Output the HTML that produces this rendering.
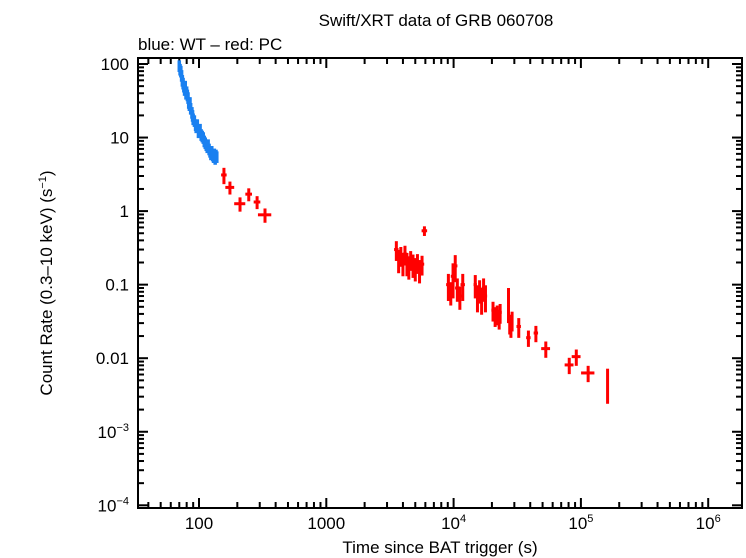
<!DOCTYPE html>
<html><head><meta charset="utf-8"><style>
body{margin:0;background:#fff;width:746px;height:558px;overflow:hidden}
svg{display:block}
text{font-family:"Liberation Sans","DejaVu Sans",sans-serif;fill:#000}
</style></head><body>
<svg id="chart" width="746" height="558" viewBox="0 0 746 558">
<text x="436" y="26" font-size="17" text-anchor="middle">Swift/XRT data of GRB 060708</text>
<text x="138" y="50" font-size="17">blue: WT – red: PC</text>
<text x="440" y="553" font-size="17" text-anchor="middle">Time since BAT trigger (s)</text>
<text transform="translate(52,283) rotate(-90)" font-size="17" text-anchor="middle">Count Rate (0.3–10 keV) (s<tspan dy="-6" font-size="11">−1</tspan><tspan dy="6">)</tspan></text>
<g id="axes"></g>
<g id="marks"></g>
<rect x="138" y="58" width="604" height="450" fill="none" stroke="#000" stroke-width="2"/>
</svg>
<script>
// WT (blue) data
const wtTime = [70,71,72,73,74,75,76,77,78,79,80,81,82,83,84,85,86,88,89,90,92,94,95,97,99,100,102,104,106,108,110,112,114,116,118,120,122,124,126,128,130,132,134,136,138];
const wtRate = [95,85,80,70,60,55,50,45,50,40,42,38,35,30,28,30,25,22,20,18,17,15,14,15,12,12,13,11,10.5,10,9,8.5,8,7.5,8,7,6.5,6,6.5,5.8,5.5,6,5.2,5.8,5.5];
// PC (red) data
const pcTime = [157,175,210,246,286,330,
 3550,3700,3850,4000,4150,4300,4450,4600,4800,5000,5200,5400,5650,5900,
 9100,9500,9900,10300,10700,11200,11800,
 14800,15400,16000,16600,17200,17800,
 20400,21200,22000,22800,23200,
 27000,27600,28200,28800,
 32500,38700,44300,53000,81000,92000,114000,162000];
const pcRate = [3.1,2.1,1.26,1.7,1.33,0.89,
 0.30,0.22,0.25,0.2,0.26,0.2,0.18,0.22,0.19,0.17,0.2,0.16,0.19,0.54,
 0.1,0.08,0.13,0.18,0.09,0.07,0.1,
 0.1,0.07,0.085,0.065,0.09,0.07,
 0.045,0.038,0.04,0.035,0.042,
 0.06,0.03,0.027,0.033,
 0.027,0.019,0.022,0.0135,0.0081,0.0105,0.0063,0.0048];
const pcTErr = [0.05,0.08,0.1,0.06,0.06,0.12,
 0.04,0.04,0.04,0.04,0.04,0.04,0.04,0.04,0.04,0.04,0.04,0.04,0.04,0.05,
 0.04,0.04,0.04,0.04,0.04,0.04,0.04,
 0.03,0.03,0.03,0.03,0.03,0.03,
 0.03,0.03,0.03,0.03,0.03,
 0.02,0.02,0.02,0.02,
 0.04,0.04,0.04,0.08,0.08,0.08,0.12,0.02];
const pcRErr = [0.25,0.2,0.22,0.2,0.2,0.22,
 0.3,0.35,0.3,0.35,0.3,0.35,0.35,0.3,0.35,0.35,0.3,0.35,0.3,0.15,
 0.4,0.35,0.5,0.4,0.35,0.35,0.4,
 0.35,0.4,0.35,0.4,0.35,0.4,
 0.3,0.3,0.3,0.3,0.3,
 0.5,0.3,0.3,0.3,
 0.3,0.25,0.25,0.25,0.25,0.25,0.25,0.5];
const xTickVals = [100,1000,10000,100000,1000000];
const xTickLabels = [["100",""],["1000",""],["10","4"],["10","5"],["10","6"]];
const yTickVals = [100,10,1,0.1,0.01,0.001,0.0001];
const yTickLabels = [["100",""],["10",""],["1",""],["0.1",""],["0.01",""],["10","−3"],["10","−4"]];

const NS="http://www.w3.org/2000/svg";
const X0=138,X1=742,Y0=58,Y1=508;
function xs(t){return 199+(Math.log10(t)-2)*127.3;}
function ys(r){return 64+(2-Math.log10(r))*73.55;}
function mk(tag,attrs,parent){const e=document.createElementNS(NS,tag);for(const k in attrs)e.setAttribute(k,attrs[k]);parent.appendChild(e);return e;}
const axes=document.getElementById('axes'), marks=document.getElementById('marks');

for(let d=1;d<=6;d++){for(let m=1;m<10;m++){const t=m*Math.pow(10,d);const x=xs(t);if(x<X0||x>X1)continue;const L=m===1?10:6;
 const a=mk('line',{x1:x,x2:x,y1:Y1,y2:Y1-L,stroke:'#000','stroke-width':2},axes);
 
 
 const b=mk('line',{x1:x,x2:x,y1:Y0,y2:Y0+L,stroke:'#000','stroke-width':2},axes);
 
 }}
xTickVals.forEach((v,i)=>{const t=mk('text',{x:xs(v),y:529,'font-size':17,'text-anchor':'middle'},axes);
 
 
 t.textContent=xTickLabels[i][0];
 if(xTickLabels[i][1]){const s=mk('tspan',{dy:-7,'font-size':11},t);s.textContent=xTickLabels[i][1];}});
for(let d=-4;d<=2;d++){for(let m=1;m<10;m++){const r=m*Math.pow(10,d);const y=ys(r);if(y<Y0||y>Y1)continue;const L=m===1?10:6;
 const a=mk('line',{x1:X0,x2:X0+L,y1:y,y2:y,stroke:'#000','stroke-width':2},axes);
 
 
 const b=mk('line',{x1:X1,x2:X1-L,y1:y,y2:y,stroke:'#000','stroke-width':2},axes);
 
 }}
yTickVals.forEach((v,i)=>{const t=mk('text',{x:129,y:ys(v)+6,'font-size':17,'text-anchor':'end'},axes);
 
 
 t.textContent=yTickLabels[i][0];
 if(yTickLabels[i][1]){const s=mk('tspan',{dy:-7,'font-size':11},t);s.textContent=yTickLabels[i][1];}});

function cross(t,r,te,re,col,name,w){const g=mk('g',{stroke:col,'stroke-width':w},marks);
 
 
 mk('line',{x1:xs(t*(1-te)),x2:xs(t*(1+te)),y1:ys(r),y2:ys(r)},g);
 mk('line',{x1:xs(t),x2:xs(t),y1:ys(r*(1+re)),y2:ys(r*(1-re))},g);}
wtTime.forEach((t,i)=>cross(t,wtRate[i],0.02,0.18,'#1a80f0','wt-point',3.5));
pcTime.forEach((t,i)=>cross(t,pcRate[i],pcTErr[i],pcRErr[i],'#ff0000','pc-point',3));
</script>
</body></html>
